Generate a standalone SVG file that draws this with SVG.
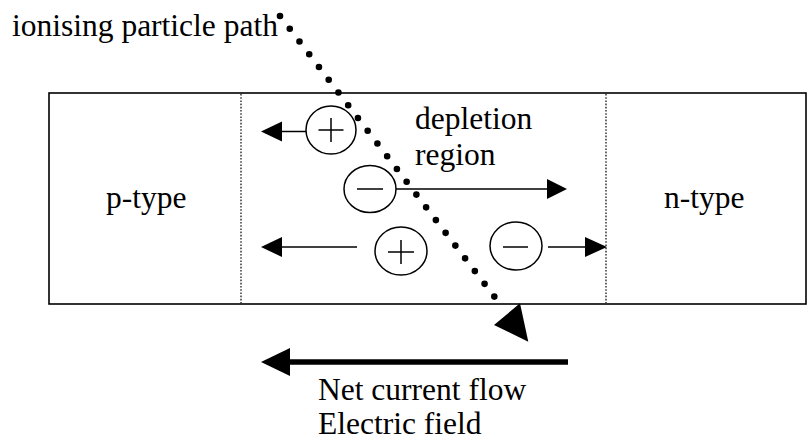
<svg xmlns="http://www.w3.org/2000/svg" width="807" height="439" viewBox="0 0 807 439">
  <style>
    text { font-family: "Liberation Serif", "Times New Roman", serif; font-size: 31.5px; fill: #000; }
    .box { fill: #fff; stroke: #000; stroke-width: 1.6; }
    .junction { stroke: #000; stroke-width: 1.2; stroke-dasharray: 1.6 1.6; fill: none; }
    .carrier { fill: #fff; stroke: #000; stroke-width: 1.5; }
    .sign { stroke: #000; stroke-width: 1.5; fill: none; }
    .drift { stroke: #000; stroke-width: 1.5; fill: none; }
    .head { fill: #000; stroke: none; }
    .track { stroke: #000; stroke-width: 6.6; stroke-linecap: round; stroke-dasharray: 0 16.05; fill: none; }
    .current { stroke: #000; stroke-width: 5.5; fill: none; }
  </style>

  <!-- semiconductor slab -->
  <g id="slab">
    <rect class="box" x="49" y="93" width="757" height="211"/>
  </g>

  <!-- p side -->
  <g id="p-type">
    <text x="106" y="208">p-type</text>
  </g>

  <!-- depletion zone bounded by dotted junction edges -->
  <g id="depletion-region">
    <line class="junction" x1="241" y1="94" x2="241" y2="303"/>
    <line class="junction" x1="606" y1="94" x2="606" y2="303"/>
    <text x="415" y="129">depletion</text>
    <text x="415" y="165">region</text>
  </g>

  <!-- n side -->
  <g id="n-type">
    <text x="664" y="208">n-type</text>
  </g>

  <!-- charge carriers -->
  <g id="hole-top">
    <ellipse class="carrier" cx="331" cy="130" rx="25" ry="24"/>
    <path class="sign" d="M318.5 130H343.5M331 118V142"/>
  </g>
  <g id="electron-mid">
    <ellipse class="carrier" cx="370" cy="189" rx="26" ry="23.5"/>
    <path class="sign" d="M357 189H383"/>
  </g>
  <g id="hole-low">
    <ellipse class="carrier" cx="401" cy="251" rx="26" ry="24"/>
    <path class="sign" d="M388 252H414M401 240V264"/>
  </g>
  <g id="electron-low">
    <ellipse class="carrier" cx="516" cy="246" rx="26" ry="24"/>
    <path class="sign" d="M503 247H528"/>
  </g>

  <!-- labels -->
  <g id="particle-label">
    <text x="12" y="36">ionising particle path</text>
  </g>
  <g id="current-label">
    <text x="318" y="400">Net current flow</text>
    <text x="318" y="434">Electric field</text>
  </g>

  <!-- drift arrows, particle track and net current -->
  <g id="connectors">
    <line class="drift" x1="306" y1="131.5" x2="281" y2="131.5"/>
    <polygon class="head" points="261,131.5 282,121.5 282,141.5"/>

    <line class="drift" x1="396" y1="189" x2="548" y2="189"/>
    <polygon class="head" points="567,189 547,179 547,199"/>

    <line class="drift" x1="357" y1="247" x2="281" y2="247"/>
    <polygon class="head" points="261,247 282,237 282,257"/>

    <line class="drift" x1="548" y1="247" x2="586" y2="247"/>
    <polygon class="head" points="607,247 585,237 585,257"/>

    <path class="track" d="M280 16L504 309.3"/>
    <polygon class="head" points="528.3,341.7 520,303.3 494,325"/>

    <line class="current" x1="568" y1="362" x2="288" y2="362"/>
    <polygon class="head" points="261,362 290,348 290,376"/>
  </g>
</svg>
